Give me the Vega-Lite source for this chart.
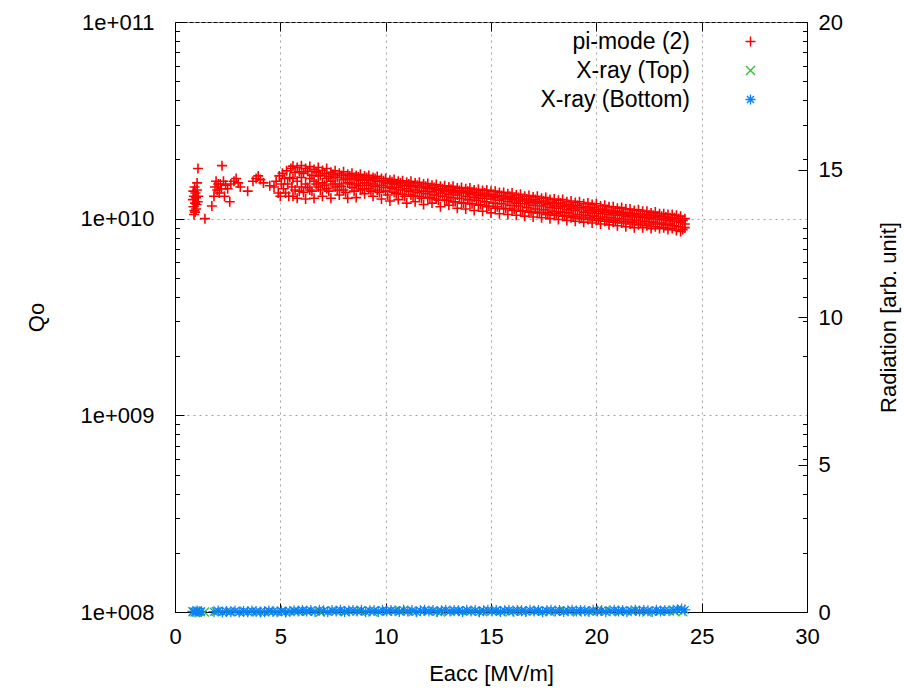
{
"$schema": "https://vega.github.io/schema/vega-lite/v6.json",
"width": 632, "height": 590,
"autosize": {"type": "none"},
"padding": {"left": 175, "top": 22, "right": 97, "bottom": 82},
"background": "#ffffff",
"config": {
 "font": "Liberation Sans",
 "view": {"stroke": "#000000", "strokeWidth": 1},
 "axis": {"labelFont": "Liberation Sans", "labelFontSize": 22, "labelColor": "#000000", "titleFont": "Liberation Sans", "titleFontSize": 22, "titleFontWeight": "normal", "titleColor": "#000000", "domainColor": "#000000", "tickColor": "#000000", "gridColor": "#a0a0a0", "gridDash": [2, 4], "gridWidth": 1}
},
"datasets": {
 "pi": [
{"x":0.85,"q":1.25e10},{"x":0.88,"q":1.15e10},{"x":0.9,"q":1.3e10},{"x":0.92,"q":1.1e10},{"x":0.95,"q":1.2e10},{"x":0.97,"q":1.35e10},{"x":1.0,"q":1.28e10},{"x":1.02,"q":1.18e10},{"x":1.05,"q":1.4e10},{"x":1.08,"q":1.22e10},{"x":0.9,"q":1.05e10},{"x":0.95,"q":1.08e10},{"x":1.0,"q":1.12e10},{"x":1.1,"q":1.3e10},{"x":1.05,"q":1.52e10},{"x":1.09,"q":1.8e10},{"x":0.87,"q":1.38e10},{"x":0.93,"q":1.45e10},{"x":1.42,"q":1.0e10},{"x":1.75,"q":1.16e10},{"x":1.85,"q":1.3e10},{"x":1.9,"q":1.45e10},{"x":1.95,"q":1.55e10},{"x":2.0,"q":1.4e10},{"x":2.05,"q":1.5e10},{"x":2.1,"q":1.35e10},{"x":2.15,"q":1.5e10},{"x":2.2,"q":1.42e10},{"x":2.23,"q":1.86e10},{"x":2.3,"q":1.55e10},{"x":2.35,"q":1.3e10},{"x":2.4,"q":1.48e10},{"x":2.5,"q":1.42e10},{"x":2.6,"q":1.22e10},{"x":2.65,"q":1.5e10},{"x":2.8,"q":1.55e10},{"x":2.9,"q":1.6e10},{"x":3.0,"q":1.52e10},{"x":3.1,"q":1.45e10},{"x":3.45,"q":1.38e10},{"x":3.7,"q":1.55e10},{"x":3.85,"q":1.6e10},{"x":3.95,"q":1.65e10},{"x":4.05,"q":1.58e10},{"x":4.2,"q":1.52e10},{"x":4.5,"q":1.47e10},{"x":4.7,"q":1.45e10},{"x":4.8,"q":1.55e10},{"x":4.9,"q":1.35e10},{"x":4.95,"q":1.65e10},{"x":5.0,"q":1.3e10},{"x":5.05,"q":1.5e10},{"x":5.1,"q":1.7e10},{"x":5.15,"q":1.42e10},{"x":5.2,"q":1.6e10},{"x":5.25,"q":1.35e10},{"x":5.3,"q":1.75e10},{"x":5.35,"q":1.5e10},{"x":5.4,"q":1.3e10},{"x":5.45,"q":1.62e10},{"x":5.5,"q":1.8e10},{"x":5.55,"q":1.45e10},
{"x":5.6,"q":1.85e10},{"x":5.6,"q":1.6e10},{"x":5.6,"q":1.3e10},
{"x":5.8,"q":1.82e10},{"x":5.8,"q":1.55e10},{"x":5.8,"q":1.27e10},
{"x":6.0,"q":1.86e10},{"x":6.0,"q":1.62e10},{"x":6.0,"q":1.45e10},
{"x":6.2,"q":1.8e10},{"x":6.2,"q":1.5e10},{"x":6.2,"q":1.26e10},
{"x":6.4,"q":1.84e10},{"x":6.4,"q":1.6e10},{"x":6.4,"q":1.4e10},
{"x":6.6,"q":1.78e10},{"x":6.6,"q":1.55e10},{"x":6.6,"q":1.27e10},
{"x":6.8,"q":1.82e10},{"x":6.8,"q":1.65e10},{"x":6.8,"q":1.45e10},
{"x":7.0,"q":1.76e10},{"x":7.0,"q":1.52e10},{"x":7.0,"q":1.3e10},
{"x":7.2,"q":1.8e10},{"x":7.2,"q":1.6e10},{"x":7.2,"q":1.42e10},
{"x":7.4,"q":1.72e10},{"x":7.4,"q":1.55e10},{"x":7.4,"q":1.27e10},
{"x":7.6,"q":1.75e10},{"x":7.6,"q":1.62e10},{"x":7.6,"q":1.45e10},
{"x":7.8,"q":1.7e10},{"x":7.8,"q":1.5e10},{"x":7.8,"q":1.32e10},
{"x":8.0,"q":1.73e10},{"x":8.0,"q":1.58e10},{"x":8.0,"q":1.4e10},
{"x":8.2,"q":1.68e10},{"x":8.2,"q":1.52e10},{"x":8.2,"q":1.27e10},
{"x":8.4,"q":1.7e10},{"x":8.4,"q":1.6e10},{"x":8.4,"q":1.44e10},
{"x":8.6,"q":1.66e10},{"x":8.6,"q":1.5e10},{"x":8.6,"q":1.28e10},
{"x":8.8,"q":1.68e10},{"x":8.8,"q":1.57e10},{"x":8.8,"q":1.4e10},
{"x":9.0,"q":1.65e10},{"x":9.0,"q":1.52e10},{"x":9.0,"q":1.34e10},
{"x":9.2,"q":1.66e10},{"x":9.2,"q":1.58e10},{"x":9.2,"q":1.42e10},
{"x":9.4,"q":1.62e10},{"x":9.4,"q":1.5e10},{"x":9.4,"q":1.3e10},
{"x":9.6,"q":1.64e10},{"x":9.6,"q":1.55e10},{"x":9.6,"q":1.4e10},
{"x":9.8,"q":1.6e10},{"x":9.8,"q":1.48e10},{"x":9.8,"q":1.26e10},
{"x":10.0,"q":1.6e10},{"x":10.0,"q":1.52e10},{"x":10.0,"q":1.38e10},
{"x":10.2,"q":1.57e10},{"x":10.2,"q":1.45e10},{"x":10.2,"q":1.23e10},
{"x":10.4,"q":1.58e10},{"x":10.4,"q":1.5e10},{"x":10.4,"q":1.36e10},
{"x":10.6,"q":1.55e10},{"x":10.6,"q":1.44e10},{"x":10.6,"q":1.25e10},
{"x":10.8,"q":1.56e10},{"x":10.8,"q":1.47e10},{"x":10.8,"q":1.33e10},
{"x":11.0,"q":1.53e10},{"x":11.0,"q":1.42e10},{"x":11.0,"q":1.2e10},
{"x":11.2,"q":1.55e10},{"x":11.2,"q":1.46e10},{"x":11.2,"q":1.32e10},
{"x":11.4,"q":1.52e10},{"x":11.4,"q":1.4e10},{"x":11.4,"q":1.22e10},
{"x":11.6,"q":1.53e10},{"x":11.6,"q":1.44e10},{"x":11.6,"q":1.3e10},
{"x":11.8,"q":1.5e10},{"x":11.8,"q":1.38e10},{"x":11.8,"q":1.18e10},
{"x":12.0,"q":1.51e10},{"x":12.0,"q":1.42e10},{"x":12.0,"q":1.28e10},
{"x":12.2,"q":1.48e10},{"x":12.2,"q":1.37e10},{"x":12.2,"q":1.2e10},
{"x":12.4,"q":1.49e10},{"x":12.4,"q":1.4e10},{"x":12.4,"q":1.26e10},
{"x":12.6,"q":1.46e10},{"x":12.6,"q":1.35e10},{"x":12.6,"q":1.15e10},
{"x":12.8,"q":1.47e10},{"x":12.8,"q":1.38e10},{"x":12.8,"q":1.24e10},
{"x":13.0,"q":1.45e10},{"x":13.0,"q":1.33e10},{"x":13.0,"q":1.17e10},
{"x":13.2,"q":1.46e10},{"x":13.2,"q":1.36e10},{"x":13.2,"q":1.22e10},
{"x":13.4,"q":1.43e10},{"x":13.4,"q":1.32e10},{"x":13.4,"q":1.13e10},
{"x":13.6,"q":1.44e10},{"x":13.6,"q":1.35e10},{"x":13.6,"q":1.2e10},
{"x":13.8,"q":1.42e10},{"x":13.8,"q":1.3e10},{"x":13.8,"q":1.12e10},
{"x":14.0,"q":1.43e10},{"x":14.0,"q":1.33e10},{"x":14.0,"q":1.19e10},
{"x":14.2,"q":1.4e10},{"x":14.2,"q":1.28e10},{"x":14.2,"q":1.1e10},
{"x":14.4,"q":1.41e10},{"x":14.4,"q":1.31e10},{"x":14.4,"q":1.17e10},
{"x":14.6,"q":1.39e10},{"x":14.6,"q":1.27e10},{"x":14.6,"q":1.09e10},
{"x":14.8,"q":1.4e10},{"x":14.8,"q":1.3e10},{"x":14.8,"q":1.15e10},
{"x":15.0,"q":1.38e10},{"x":15.0,"q":1.26e10},{"x":15.0,"q":1.07e10},
{"x":15.2,"q":1.38e10},{"x":15.2,"q":1.28e10},{"x":15.2,"q":1.13e10},
{"x":15.4,"q":1.36e10},{"x":15.4,"q":1.24e10},{"x":15.4,"q":1.06e10},
{"x":15.6,"q":1.36e10},{"x":15.6,"q":1.26e10},{"x":15.6,"q":1.12e10},
{"x":15.8,"q":1.34e10},{"x":15.8,"q":1.22e10},{"x":15.8,"q":1.05e10},
{"x":16.0,"q":1.35e10},{"x":16.0,"q":1.25e10},{"x":16.0,"q":1.1e10},
{"x":16.2,"q":1.32e10},{"x":16.2,"q":1.2e10},{"x":16.2,"q":1.04e10},
{"x":16.4,"q":1.33e10},{"x":16.4,"q":1.23e10},{"x":16.4,"q":1.09e10},
{"x":16.6,"q":1.3e10},{"x":16.6,"q":1.19e10},{"x":16.6,"q":1.03e10},
{"x":16.8,"q":1.31e10},{"x":16.8,"q":1.21e10},{"x":16.8,"q":1.08e10},
{"x":17.0,"q":1.29e10},{"x":17.0,"q":1.17e10},{"x":17.0,"q":1.02e10},
{"x":17.2,"q":1.3e10},{"x":17.2,"q":1.2e10},{"x":17.2,"q":1.07e10},
{"x":17.4,"q":1.27e10},{"x":17.4,"q":1.16e10},{"x":17.4,"q":1.01e10},
{"x":17.6,"q":1.28e10},{"x":17.6,"q":1.18e10},{"x":17.6,"q":1.05e10},
{"x":17.8,"q":1.25e10},{"x":17.8,"q":1.14e10},{"x":17.8,"q":1.0e10},
{"x":18.0,"q":1.26e10},{"x":18.0,"q":1.16e10},{"x":18.0,"q":1.04e10},
{"x":18.2,"q":1.24e10},{"x":18.2,"q":1.13e10},{"x":18.2,"q":0.99e10},
{"x":18.4,"q":1.25e10},{"x":18.4,"q":1.15e10},{"x":18.4,"q":1.03e10},
{"x":18.6,"q":1.22e10},{"x":18.6,"q":1.11e10},{"x":18.6,"q":0.98e10},
{"x":18.8,"q":1.23e10},{"x":18.8,"q":1.13e10},{"x":18.8,"q":1.01e10},
{"x":19.0,"q":1.21e10},{"x":19.0,"q":1.1e10},{"x":19.0,"q":0.97e10},
{"x":19.2,"q":1.22e10},{"x":19.2,"q":1.12e10},{"x":19.2,"q":1.0e10},
{"x":19.4,"q":1.19e10},{"x":19.4,"q":1.08e10},{"x":19.4,"q":0.96e10},
{"x":19.6,"q":1.2e10},{"x":19.6,"q":1.1e10},{"x":19.6,"q":0.99e10},
{"x":19.8,"q":1.18e10},{"x":19.8,"q":1.07e10},{"x":19.8,"q":0.95e10},
{"x":20.0,"q":1.19e10},{"x":20.0,"q":1.09e10},{"x":20.0,"q":0.98e10},
{"x":20.2,"q":1.16e10},{"x":20.2,"q":1.06e10},{"x":20.2,"q":0.94e10},
{"x":20.4,"q":1.17e10},{"x":20.4,"q":1.08e10},{"x":20.4,"q":0.97e10},
{"x":20.6,"q":1.15e10},{"x":20.6,"q":1.05e10},{"x":20.6,"q":0.93e10},
{"x":20.8,"q":1.15e10},{"x":20.8,"q":1.06e10},{"x":20.8,"q":0.96e10},
{"x":21.0,"q":1.13e10},{"x":21.0,"q":1.04e10},{"x":21.0,"q":0.92e10},
{"x":21.2,"q":1.14e10},{"x":21.2,"q":1.05e10},{"x":21.2,"q":0.95e10},
{"x":21.4,"q":1.12e10},{"x":21.4,"q":1.03e10},{"x":21.4,"q":0.91e10},
{"x":21.6,"q":1.12e10},{"x":21.6,"q":1.04e10},{"x":21.6,"q":0.94e10},
{"x":21.8,"q":1.1e10},{"x":21.8,"q":1.02e10},{"x":21.8,"q":0.9e10},
{"x":22.0,"q":1.11e10},{"x":22.0,"q":1.03e10},{"x":22.0,"q":0.93e10},
{"x":22.2,"q":1.09e10},{"x":22.2,"q":1.01e10},{"x":22.2,"q":0.9e10},
{"x":22.4,"q":1.09e10},{"x":22.4,"q":1.02e10},{"x":22.4,"q":0.92e10},
{"x":22.6,"q":1.07e10},{"x":22.6,"q":1.0e10},{"x":22.6,"q":0.89e10},
{"x":22.8,"q":1.08e10},{"x":22.8,"q":1.01e10},{"x":22.8,"q":0.91e10},
{"x":23.0,"q":1.06e10},{"x":23.0,"q":0.99e10},{"x":23.0,"q":0.89e10},
{"x":23.2,"q":1.06e10},{"x":23.2,"q":1.0e10},{"x":23.2,"q":0.9e10},
{"x":23.4,"q":1.05e10},{"x":23.4,"q":0.98e10},{"x":23.4,"q":0.88e10},
{"x":23.6,"q":1.05e10},{"x":23.6,"q":0.99e10},{"x":23.6,"q":0.89e10},
{"x":23.8,"q":1.04e10},{"x":23.8,"q":0.97e10},{"x":23.8,"q":0.87e10},
{"x":24.0,"q":1.03e10},{"x":24.0,"q":0.96e10},{"x":24.0,"q":0.86e10},
{"x":24.2,"q":1.0e10},{"x":24.2,"q":0.94e10},{"x":24.2,"q":0.9e10},
{"x":5.7,"q":1.72e10},{"x":5.7,"q":1.4e10},{"x":5.9,"q":1.73e10},{"x":5.9,"q":1.38e10},{"x":6.1,"q":1.7e10},{"x":6.1,"q":1.36e10},{"x":6.3,"q":1.74e10},{"x":6.3,"q":1.44e10},{"x":6.5,"q":1.66e10},{"x":6.5,"q":1.38e10},{"x":6.7,"q":1.73e10},{"x":6.7,"q":1.5e10},{"x":6.9,"q":1.66e10},{"x":6.9,"q":1.4e10},{"x":7.1,"q":1.7e10},{"x":7.1,"q":1.48e10},{"x":7.3,"q":1.64e10},{"x":7.3,"q":1.38e10},{"x":7.5,"q":1.68e10},{"x":7.5,"q":1.5e10},{"x":7.7,"q":1.62e10},{"x":7.7,"q":1.4e10},{"x":7.9,"q":1.66e10},{"x":7.9,"q":1.46e10},{"x":8.1,"q":1.61e10},{"x":8.1,"q":1.36e10},{"x":8.3,"q":1.65e10},{"x":8.3,"q":1.5e10},{"x":8.5,"q":1.59e10},{"x":8.5,"q":1.38e10},{"x":8.7,"q":1.63e10},{"x":8.7,"q":1.47e10},{"x":8.9,"q":1.59e10},{"x":8.9,"q":1.42e10},{"x":9.1,"q":1.62e10},{"x":9.1,"q":1.48e10},{"x":9.3,"q":1.57e10},{"x":9.3,"q":1.38e10},{"x":9.5,"q":1.6e10},{"x":9.5,"q":1.46e10},{"x":9.7,"q":1.55e10},{"x":9.7,"q":1.36e10},{"x":9.9,"q":1.56e10},{"x":9.9,"q":1.44e10},
{"x":10.1,"q":1.52e10},{"x":10.1,"q":1.32e10},{"x":10.3,"q":1.54e10},{"x":10.3,"q":1.42e10},{"x":10.5,"q":1.5e10},{"x":10.5,"q":1.34e10},{"x":10.7,"q":1.52e10},{"x":10.7,"q":1.4e10},{"x":10.9,"q":1.48e10},{"x":10.9,"q":1.3e10},{"x":11.1,"q":1.5e10},{"x":11.1,"q":1.38e10},{"x":11.3,"q":1.46e10},{"x":11.3,"q":1.3e10},{"x":11.5,"q":1.48e10},{"x":11.5,"q":1.36e10},{"x":11.7,"q":1.44e10},{"x":11.7,"q":1.27e10},{"x":11.9,"q":1.46e10},{"x":11.9,"q":1.34e10},{"x":12.1,"q":1.43e10},{"x":12.1,"q":1.28e10},{"x":12.3,"q":1.44e10},{"x":12.3,"q":1.32e10},{"x":12.5,"q":1.4e10},{"x":12.5,"q":1.24e10},{"x":12.7,"q":1.42e10},{"x":12.7,"q":1.3e10},{"x":12.9,"q":1.39e10},{"x":12.9,"q":1.24e10},{"x":13.1,"q":1.41e10},{"x":13.1,"q":1.28e10},{"x":13.3,"q":1.38e10},{"x":13.3,"q":1.22e10},{"x":13.5,"q":1.39e10},{"x":13.5,"q":1.27e10},{"x":13.7,"q":1.36e10},{"x":13.7,"q":1.2e10},{"x":13.9,"q":1.38e10},{"x":13.9,"q":1.25e10},{"x":14.1,"q":1.35e10},{"x":14.1,"q":1.19e10},{"x":14.3,"q":1.36e10},{"x":14.3,"q":1.24e10},{"x":14.5,"q":1.33e10},{"x":14.5,"q":1.18e10},{"x":14.7,"q":1.35e10},{"x":14.7,"q":1.22e10},{"x":14.9,"q":1.32e10},{"x":14.9,"q":1.16e10},
{"x":15.1,"q":1.33e10},{"x":15.1,"q":1.2e10},{"x":15.3,"q":1.3e10},{"x":15.3,"q":1.15e10},{"x":15.5,"q":1.31e10},{"x":15.5,"q":1.19e10},{"x":15.7,"q":1.28e10},{"x":15.7,"q":1.13e10},{"x":15.9,"q":1.3e10},{"x":15.9,"q":1.17e10},{"x":16.1,"q":1.27e10},{"x":16.1,"q":1.12e10},{"x":16.3,"q":1.28e10},{"x":16.3,"q":1.16e10},{"x":16.5,"q":1.25e10},{"x":16.5,"q":1.1e10},{"x":16.7,"q":1.26e10},{"x":16.7,"q":1.14e10},{"x":16.9,"q":1.23e10},{"x":16.9,"q":1.09e10},{"x":17.1,"q":1.25e10},{"x":17.1,"q":1.12e10},{"x":17.3,"q":1.22e10},{"x":17.3,"q":1.08e10},{"x":17.5,"q":1.23e10},{"x":17.5,"q":1.11e10},{"x":17.7,"q":1.2e10},{"x":17.7,"q":1.07e10},{"x":17.9,"q":1.21e10},{"x":17.9,"q":1.09e10},{"x":18.1,"q":1.19e10},{"x":18.1,"q":1.06e10},{"x":18.3,"q":1.2e10},{"x":18.3,"q":1.08e10},{"x":18.5,"q":1.17e10},{"x":18.5,"q":1.04e10},{"x":18.7,"q":1.18e10},{"x":18.7,"q":1.07e10},{"x":18.9,"q":1.15e10},{"x":18.9,"q":1.03e10},{"x":19.1,"q":1.17e10},{"x":19.1,"q":1.05e10},{"x":19.3,"q":1.14e10},{"x":19.3,"q":1.02e10},{"x":19.5,"q":1.15e10},{"x":19.5,"q":1.04e10},{"x":19.7,"q":1.12e10},{"x":19.7,"q":1.01e10},{"x":19.9,"q":1.14e10},{"x":19.9,"q":1.03e10},
{"x":20.1,"q":1.11e10},{"x":20.1,"q":1.0e10},{"x":20.3,"q":1.12e10},{"x":20.3,"q":1.02e10},{"x":20.5,"q":1.1e10},{"x":20.5,"q":0.99e10},{"x":20.7,"q":1.1e10},{"x":20.7,"q":1.01e10},{"x":20.9,"q":1.08e10},{"x":20.9,"q":0.98e10},{"x":21.1,"q":1.09e10},{"x":21.1,"q":1.0e10},{"x":21.3,"q":1.07e10},{"x":21.3,"q":0.97e10},{"x":21.5,"q":1.07e10},{"x":21.5,"q":0.99e10},{"x":21.7,"q":1.06e10},{"x":21.7,"q":0.96e10},{"x":21.9,"q":1.06e10},{"x":21.9,"q":0.98e10},{"x":22.1,"q":1.05e10},{"x":22.1,"q":0.95e10},{"x":22.3,"q":1.05e10},{"x":22.3,"q":0.97e10},{"x":22.5,"q":1.04e10},{"x":22.5,"q":0.94e10},{"x":22.7,"q":1.04e10},{"x":22.7,"q":0.96e10},{"x":22.9,"q":1.03e10},{"x":22.9,"q":0.94e10},{"x":23.1,"q":1.03e10},{"x":23.1,"q":0.95e10},{"x":23.3,"q":1.02e10},{"x":23.3,"q":0.93e10},{"x":23.5,"q":1.01e10},{"x":23.5,"q":0.94e10},{"x":23.7,"q":1.01e10},{"x":23.7,"q":0.92e10},{"x":23.9,"q":1.0e10},{"x":23.9,"q":0.91e10},{"x":24.1,"q":0.98e10},{"x":24.1,"q":0.88e10}
 ],
 "top": [
{"x":0.85,"r":0.01},{"x":0.95,"r":0.0},{"x":1.05,"r":0.02},{"x":1.2,"r":0.01},{"x":1.4,"r":0.0},{"x":1.95,"r":0.02},{"x":2.6,"r":0.01},{"x":3.3,"r":0.03},{"x":3.9,"r":0.0},{"x":4.5,"r":0.02},{"x":5.1,"r":0.01},{"x":5.7,"r":0.03},{"x":6.3,"r":0.02},{"x":6.9,"r":0.0},{"x":7.5,"r":0.04},{"x":8.1,"r":0.01},{"x":8.8,"r":0.03},{"x":9.4,"r":0.0},{"x":10.1,"r":0.02},{"x":10.7,"r":0.04},{"x":11.3,"r":0.01},{"x":12.0,"r":0.03},{"x":12.6,"r":0.0},{"x":13.3,"r":0.02},{"x":13.9,"r":0.04},{"x":14.6,"r":0.01},{"x":15.2,"r":0.03},{"x":15.9,"r":0.0},{"x":16.5,"r":0.02},{"x":17.2,"r":0.04},{"x":17.8,"r":0.01},{"x":18.5,"r":0.03},{"x":19.1,"r":0.0},{"x":19.8,"r":0.02},{"x":20.4,"r":0.04},{"x":21.1,"r":0.01},{"x":21.7,"r":0.03},{"x":22.4,"r":0.0},{"x":23.0,"r":0.02},{"x":23.7,"r":0.04},{"x":24.1,"r":0.01}
 ],
 "bot": [
{"x":0.85,"r":0.02},{"x":0.95,"r":0.0},{"x":1.05,"r":0.03},{"x":1.15,"r":0.01},{"x":1.25,"r":0.02},{"x":1.85,"r":0.01},{"x":2.05,"r":0.03},{"x":2.25,"r":0.0},{"x":2.45,"r":0.02},{"x":2.65,"r":0.01},{"x":2.85,"r":0.03},{"x":3.05,"r":0.0},{"x":3.25,"r":0.02},{"x":3.45,"r":0.01},{"x":3.65,"r":0.03},{"x":3.85,"r":0.02},{"x":4.05,"r":0.0},{"x":4.25,"r":0.01},{"x":4.45,"r":0.03},{"x":4.65,"r":0.02},{"x":4.85,"r":0.01},{"x":5.05,"r":0.03},{"x":5.25,"r":0.0},{"x":5.45,"r":0.02},{"x":5.65,"r":0.04},{"x":5.85,"r":0.03},{"x":6.05,"r":0.05},
{"x":6.25,"r":0.03},{"x":6.45,"r":0.05},{"x":6.65,"r":0.02},{"x":6.85,"r":0.06},{"x":7.05,"r":0.04},{"x":7.25,"r":0.01},{"x":7.45,"r":0.05},{"x":7.65,"r":0.03},{"x":7.85,"r":0.06},{"x":8.05,"r":0.02},{"x":8.25,"r":0.04},{"x":8.45,"r":0.05},{"x":8.65,"r":0.03},{"x":8.85,"r":0.06},{"x":9.05,"r":0.01},{"x":9.25,"r":0.04},{"x":9.45,"r":0.05},{"x":9.65,"r":0.02},{"x":9.85,"r":0.06},{"x":10.05,"r":0.03},{"x":10.25,"r":0.05},{"x":10.45,"r":0.04},{"x":10.65,"r":0.02},{"x":10.85,"r":0.06},{"x":11.05,"r":0.03},{"x":11.25,"r":0.05},{"x":11.45,"r":0.01},{"x":11.65,"r":0.04},{"x":11.85,"r":0.06},{"x":12.05,"r":0.03},{"x":12.25,"r":0.05},{"x":12.45,"r":0.02},{"x":12.65,"r":0.04},{"x":12.85,"r":0.06},{"x":13.05,"r":0.03},{"x":13.25,"r":0.05},{"x":13.45,"r":0.04},{"x":13.65,"r":0.02},{"x":13.85,"r":0.06},{"x":14.05,"r":0.03},{"x":14.25,"r":0.05},{"x":14.45,"r":0.01},{"x":14.65,"r":0.04},{"x":14.85,"r":0.06},{"x":15.05,"r":0.03},{"x":15.25,"r":0.05},{"x":15.45,"r":0.02},{"x":15.65,"r":0.04},{"x":15.85,"r":0.06},{"x":16.05,"r":0.03},{"x":16.25,"r":0.05},{"x":16.45,"r":0.04},{"x":16.65,"r":0.02},{"x":16.85,"r":0.06},{"x":17.05,"r":0.03},{"x":17.25,"r":0.05},{"x":17.45,"r":0.01},{"x":17.65,"r":0.04},{"x":17.85,"r":0.06},{"x":18.05,"r":0.03},{"x":18.25,"r":0.05},{"x":18.45,"r":0.02},{"x":18.65,"r":0.04},{"x":18.85,"r":0.06},{"x":19.05,"r":0.03},{"x":19.25,"r":0.05},{"x":19.45,"r":0.04},{"x":19.65,"r":0.02},{"x":19.85,"r":0.06},{"x":20.05,"r":0.03},{"x":20.25,"r":0.05},{"x":20.45,"r":0.01},{"x":20.65,"r":0.04},{"x":20.85,"r":0.06},{"x":21.05,"r":0.03},{"x":21.25,"r":0.05},{"x":21.45,"r":0.02},{"x":21.65,"r":0.04},{"x":21.85,"r":0.06},{"x":22.05,"r":0.03},{"x":22.25,"r":0.05},{"x":22.45,"r":0.04},{"x":22.65,"r":0.02},{"x":22.85,"r":0.06},{"x":23.05,"r":0.03},{"x":23.25,"r":0.05},{"x":23.45,"r":0.04},{"x":23.65,"r":0.06},{"x":23.85,"r":0.08},{"x":24.05,"r":0.1},{"x":24.2,"r":0.07}
 ]
},
"layer": [
 {
  "data": {"name": "pi"},
  "mark": {"type": "point", "filled": false, "strokeWidth": 1.6, "size": 100, "opacity": 1},
  "encoding": {
   "x": {"field": "x", "type": "quantitative", "scale": {"domain": [0, 30], "nice": false, "zero": false},
         "axis": {"orient": "bottom", "title": "Eacc [MV/m]", "values": [0, 5, 10, 15, 20, 25, 30], "format": "d", "tickSize": -9, "labelPadding": 23, "grid": true, "titleX": 316, "titleY": 61, "titleBaseline": "middle", "labelFlush": false}},
   "y": {"field": "q", "type": "quantitative", "scale": {"type": "log", "domain": [1e8, 1e11], "nice": false},
         "axis": {"orient": "left", "title": "Qo", "values": [1e8, 1e9, 1e10, 1e11], "labelExpr": "'1e+0' + format(round(log(datum.value)/LN10), '02d')", "tickSize": -9, "labelPadding": 30, "grid": true, "titleX": -139, "titleY": 295, "titleBaseline": "middle", "titleAngle": 270, "labelFlush": false}},
   "color": {"datum": "pi-mode (2)", "type": "nominal",
     "scale": {"domain": ["pi-mode (2)", "X-ray (Top)", "X-ray (Bottom)"], "range": ["#ff0000", "#2fbf2f", "#0a82f5"]},
     "legend": {"orient": "none", "legendX": 564, "legendY": 8, "title": null, "labelAlign": "right", "labelOffset": -72, "labelFontSize": 23, "labelFont": "Liberation Sans", "labelColor": "#000000", "rowPadding": 5, "symbolStrokeWidth": 1.4, "symbolSize": 100, "padding": 0}},
   "shape": {"datum": "pi-mode (2)", "type": "nominal",
     "scale": {"domain": ["pi-mode (2)", "X-ray (Top)", "X-ray (Bottom)"], "range": ["M-1,0L1,0M0,-1L0,1", "M-0.9,-0.9L0.9,0.9M0.9,-0.9L-0.9,0.9", "M-1,0L1,0M0,-1L0,1M-0.7,-0.7L0.7,0.7M0.7,-0.7L-0.7,0.7"]}}
  }
 },
 {
  "data": {"name": "top"},
  "mark": {"type": "point", "filled": false, "strokeWidth": 1.2, "size": 100, "opacity": 1},
  "encoding": {
   "x": {"field": "x", "type": "quantitative", "axis": null},
   "y": {"field": "r", "type": "quantitative", "scale": {"domain": [0, 20], "nice": false},
         "axis": {"orient": "right", "title": "Radiation [arb. unit]", "values": [0, 5, 10, 15, 20], "tickSize": -9, "labelPadding": 20, "grid": false, "titleX": 81, "titleY": 295, "titleBaseline": "middle", "titleAngle": 270, "labelFlush": false}},
   "color": {"datum": "X-ray (Top)", "type": "nominal"},
   "shape": {"datum": "X-ray (Top)", "type": "nominal"}
  }
 },
 {
  "data": {"name": "bot"},
  "mark": {"type": "point", "filled": false, "strokeWidth": 1.2, "size": 121, "opacity": 1},
  "encoding": {
   "x": {"field": "x", "type": "quantitative", "axis": null},
   "y": {"field": "r", "type": "quantitative", "scale": {"domain": [0, 20], "nice": false}, "axis": null},
   "color": {"datum": "X-ray (Bottom)", "type": "nominal"},
   "shape": {"datum": "X-ray (Bottom)", "type": "nominal"}
  }
 },
 {
  "data": {"values": []},
  "mark": {"type": "point", "opacity": 0},
  "encoding": {
   "x": {"field": "x", "type": "quantitative", "axis": {"orient": "top", "title": null, "values": [5, 10, 15, 20, 25], "labels": false, "domain": false, "grid": false, "tickSize": -9}},
   "y": {"field": "q", "type": "quantitative", "scale": {"type": "log", "domain": [1e8, 1e11], "nice": false},
         "axis": {"orient": "left", "title": null, "values": [2e8, 3e8, 4e8, 5e8, 6e8, 7e8, 8e8, 9e8, 2e9, 3e9, 4e9, 5e9, 6e9, 7e9, 8e9, 9e9, 2e10, 3e10, 4e10, 5e10, 6e10, 7e10, 8e10, 9e10], "labels": false, "domain": false, "grid": false, "tickSize": -4.5}}
  }
 },
 {
  "data": {"values": []},
  "mark": {"type": "point", "opacity": 0},
  "encoding": {
   "x": {"field": "x", "type": "quantitative", "axis": null},
   "y": {"field": "q", "type": "quantitative", "scale": {"type": "log", "domain": [1e8, 1e11], "nice": false},
         "axis": {"orient": "right", "title": null, "values": [2e8, 3e8, 4e8, 5e8, 6e8, 7e8, 8e8, 9e8, 2e9, 3e9, 4e9, 5e9, 6e9, 7e9, 8e9, 9e9, 2e10, 3e10, 4e10, 5e10, 6e10, 7e10, 8e10, 9e10], "labels": false, "domain": false, "grid": false, "tickSize": -4.5}}
  }
 }
],
"resolve": {"scale": {"y": "independent"}, "axis": {"x": "independent", "y": "independent"}}
}
